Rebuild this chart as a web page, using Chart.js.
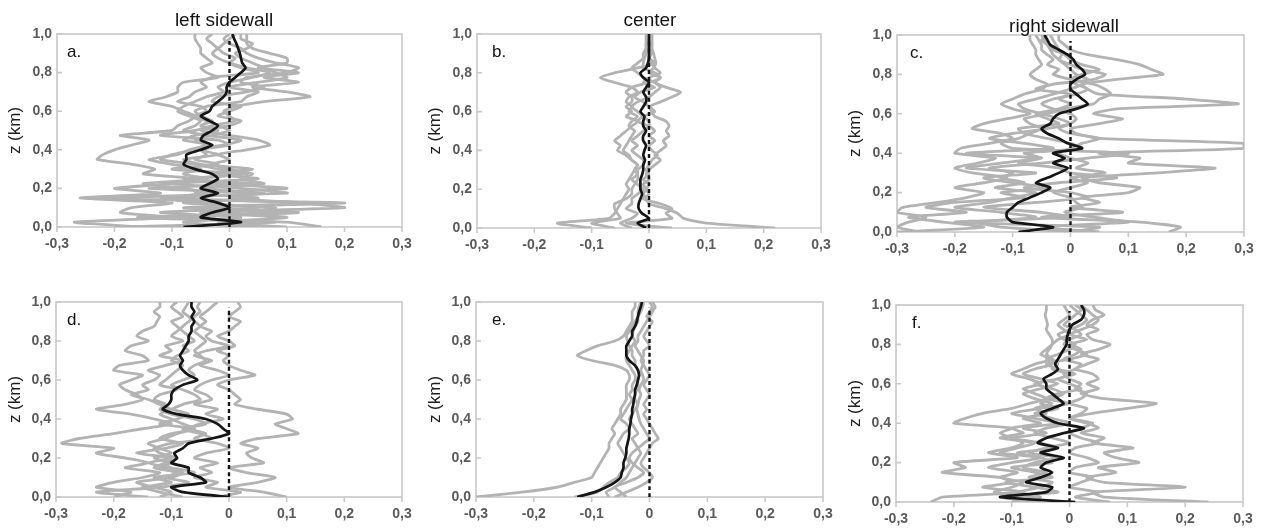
<!DOCTYPE html>
<html>
<head>
<meta charset="utf-8">
<script src="https://cdn.jsdelivr.net/npm/chart.js@4.4.1/dist/chart.umd.min.js"></script>
<style>
  body { margin: 0; background: #fff; }
  #fig { position: relative; width: 1264px; height: 528px; overflow: hidden; }
  #fig canvas { position: absolute; }
</style>
</head>
<body>
<div id="fig"></div>
<script>
// heights (km), listed from top (1.0) to ground (0)
const zLevels = [1.0, 0.975, 0.95, 0.925, 0.9, 0.875, 0.85, 0.825, 0.8, 0.775, 0.75, 0.725, 0.7, 0.675, 0.65, 0.625, 0.6, 0.575, 0.55, 0.525, 0.5, 0.475, 0.45, 0.425, 0.4, 0.375, 0.35, 0.325, 0.3, 0.275, 0.25, 0.225, 0.2, 0.175, 0.15, 0.125, 0.1, 0.075, 0.05, 0.025, 0];
const zeroLineX = [0, 0];
const zeroLineZ = [0, 0.97];

// a. left sidewall (top row)
const aMean = [0.005, 0.008, 0.012, 0.015, 0.018, 0.02, 0.022, 0.028, 0.02, 0.01, 0, -0.005, -0.005, -0.01, -0.02, -0.03, -0.035, -0.05, -0.035, -0.02, -0.03, -0.045, -0.05, -0.03, -0.05, -0.075, -0.075, -0.08, -0.06, -0.03, -0.02, -0.035, -0.05, -0.02, -0.05, -0.02, 0, -0.03, -0.05, 0.02, -0.08];
const aRun1 = [0.03, 0.03, 0.03, 0.04, 0.07, 0.1, 0.1, 0.05, 0.12, 0.06, 0.12, 0.04, 0.1, 0.14, 0.06, 0.01, -0.01, 0, 0.01, -0.03, -0.06, -0.12, -0.02, 0, -0.05, -0.02, -0.08, -0.05, 0.04, -0.03, 0.05, -0.1, 0.02, 0.1, -0.25, 0.2, -0.05, 0.07, -0.12, 0.1, 0.16];
const aRun2 = [-0.06, -0.06, -0.055, -0.05, -0.05, -0.04, -0.03, -0.05, -0.04, -0.02, -0.08, -0.09, -0.09, -0.11, -0.14, -0.1, -0.08, -0.06, -0.07, -0.09, -0.1, -0.19, -0.14, -0.17, -0.2, -0.22, -0.23, -0.17, -0.13, -0.15, -0.06, -0.1, -0.2, -0.12, -0.26, -0.1, -0.17, -0.19, -0.1, -0.27, -0.15];
const aRun3 = [0, -0.01, 0, 0.02, 0.03, 0.05, 0.08, 0.12, 0.1, 0.03, 0.02, 0.06, 0.03, -0.02, -0.03, 0.02, 0, -0.02, 0.02, 0, -0.05, 0, 0.05, 0.07, 0.03, -0.02, 0, -0.03, 0, 0.04, 0.02, 0.06, -0.05, 0.05, 0, 0.12, 0.2, -0.05, 0.1, -0.02, 0.1];
const aRun4 = [-0.03, -0.04, -0.03, -0.02, -0.01, 0.01, 0, 0.02, 0.05, -0.03, -0.05, -0.04, -0.06, -0.07, -0.09, -0.05, -0.04, -0.06, -0.04, -0.02, 0, -0.03, -0.06, -0.04, -0.07, -0.09, -0.14, -0.1, -0.05, -0.08, -0.04, -0.15, -0.08, -0.04, -0.12, -0.04, 0.05, -0.12, 0.02, -0.08, 0.05];
const aRun5 = [0.02, 0.02, 0.04, 0.03, 0.01, 0.02, 0.04, 0.06, 0.08, 0.1, 0.05, 0, 0.05, 0.03, 0.02, -0.04, -0.06, -0.05, -0.03, -0.05, -0.02, -0.06, -0.08, -0.03, -0.05, -0.04, -0.06, -0.02, -0.1, 0.02, -0.05, -0.02, 0.1, -0.06, 0.05, -0.08, 0.08, 0, -0.07, 0.06, -0.12];
const aRun6 = [0.01, 0, -0.01, -0.02, -0.03, -0.02, 0, 0.03, 0.07, 0.04, 0, -0.02, -0.01, -0.04, -0.06, -0.08, -0.09, -0.07, -0.05, -0.06, -0.08, -0.04, 0.02, -0.01, -0.06, -0.1, -0.12, -0.06, -0.02, 0.03, -0.08, 0.04, -0.14, 0.06, -0.1, 0.14, -0.08, 0.12, -0.16, 0.08, -0.2];

// b. center (top row)
const bMean = [0, 0, 0, 0, 0, 0, -0.002, -0.005, -0.015, -0.01, 0, -0.005, -0.01, -0.005, -0.005, -0.01, -0.015, -0.008, -0.01, -0.01, -0.005, -0.01, -0.01, -0.005, -0.008, -0.01, -0.007, -0.01, -0.01, -0.012, -0.015, -0.015, -0.015, -0.012, -0.015, -0.018, -0.018, -0.012, 0, -0.02, -0.005];
const bRun1 = [0.005, 0.005, 0.005, 0.005, 0.005, 0, 0.01, -0.02, -0.06, -0.085, -0.06, -0.03, -0.02, -0.035, -0.04, -0.03, -0.035, -0.02, -0.03, -0.035, -0.025, -0.03, -0.035, -0.04, -0.045, -0.035, -0.03, -0.02, -0.025, -0.03, -0.035, -0.04, -0.035, -0.04, -0.045, -0.05, -0.055, -0.06, -0.07, -0.16, -0.1];
const bRun2 = [0.005, 0.005, 0.005, 0.005, 0.008, 0.01, 0.012, 0.008, 0, 0.02, 0.01, 0.03, 0.055, 0.04, 0.02, 0, 0.005, 0.01, 0.03, 0.035, 0.03, 0.035, 0.025, 0.03, 0.02, 0.01, 0.02, 0.01, 0, -0.005, 0, -0.01, -0.005, -0.01, -0.005, 0, 0.03, 0.05, 0.06, 0.1, 0.22];
const bRun3 = [-0.005, -0.005, -0.005, -0.005, -0.005, -0.008, -0.01, -0.01, 0.01, 0.02, 0, -0.03, -0.04, -0.03, -0.03, -0.04, -0.03, -0.04, -0.02, -0.03, -0.04, -0.05, -0.06, -0.05, -0.055, -0.04, -0.03, -0.02, -0.025, -0.02, -0.02, -0.025, -0.03, -0.03, -0.04, -0.06, -0.06, -0.055, -0.05, -0.1, -0.06];
const bRun4 = [0, 0, 0, 0, 0, 0, 0.005, 0.01, 0.02, 0, -0.01, 0.01, -0.015, -0.025, -0.01, 0, 0.01, -0.01, -0.02, 0, 0.01, 0, 0.01, 0, 0.005, 0.015, 0.005, 0, -0.005, 0, -0.01, 0, -0.005, 0, -0.01, 0.02, 0.04, 0.03, 0.04, -0.04, 0.04];
const bRun5 = [0, 0, -0.005, -0.005, -0.01, -0.01, -0.02, -0.03, -0.02, -0.01, 0.01, 0.02, 0.01, 0, -0.02, -0.03, -0.02, -0.01, 0, 0, -0.01, -0.02, -0.03, -0.02, -0.03, -0.02, -0.01, -0.01, -0.02, -0.02, -0.03, -0.02, -0.01, -0.02, -0.03, -0.03, -0.04, -0.02, -0.03, -0.05, -0.03];

// c. right sidewall (top row)
const cMean = [-0.045, -0.04, -0.035, -0.02, -0.005, 0.005, 0.01, 0.02, 0.025, 0.01, 0, 0, 0.01, 0.02, 0.03, 0.01, -0.02, -0.03, -0.035, -0.05, -0.04, -0.02, -0.005, 0.02, -0.03, -0.01, -0.03, -0.005, -0.02, -0.04, -0.06, -0.035, -0.05, -0.07, -0.09, -0.1, -0.11, -0.11, -0.1, -0.03, -0.09];
const cRun1 = [-0.02, -0.02, -0.01, 0, 0.03, 0.08, 0.12, 0.14, 0.16, 0.08, 0.02, 0.03, 0.05, 0.2, 0.29, 0.08, 0.04, 0.09, 0.05, 0, 0.01, 0.05, 0.3, 0.3, 0.05, 0.12, 0.1, 0.25, 0.15, 0.02, 0.05, 0.12, 0.1, 0.02, 0.05, 0, 0.09, -0.05, 0.12, 0.19, 0.17];
const cRun2 = [-0.07, -0.07, -0.065, -0.06, -0.06, -0.055, -0.05, -0.06, -0.07, -0.06, -0.04, -0.05, -0.08, -0.1, -0.12, -0.1, -0.07, -0.11, -0.15, -0.17, -0.12, -0.1, -0.14, -0.19, -0.2, -0.13, -0.16, -0.2, -0.17, -0.11, -0.15, -0.2, -0.15, -0.18, -0.23, -0.29, -0.3, -0.25, -0.28, -0.3, -0.26];
const cRun3 = [-0.035, -0.03, -0.025, -0.02, -0.015, -0.02, 0, 0.02, 0.06, 0.04, -0.03, -0.06, 0, -0.02, 0, -0.02, -0.06, -0.04, -0.02, -0.09, -0.08, -0.04, 0, 0.02, -0.08, -0.05, -0.09, -0.02, 0, 0.08, -0.02, -0.08, 0, 0.03, -0.06, -0.15, -0.05, 0, -0.2, 0.05, 0];
const cRun4 = [-0.06, -0.055, -0.05, -0.05, -0.04, -0.03, -0.04, -0.02, -0.03, 0, 0.04, 0.06, 0.07, 0.05, 0.04, -0.01, -0.04, -0.08, -0.07, -0.05, -0.07, -0.09, -0.12, -0.1, 0.1, 0.03, -0.05, -0.14, -0.1, -0.12, -0.08, -0.13, -0.06, -0.1, -0.14, -0.2, -0.12, -0.06, -0.16, -0.12, 0.02];
const cRun5 = [-0.04, -0.05, -0.04, -0.03, -0.01, 0, 0.02, 0.05, 0.02, 0, 0.01, 0.03, 0.01, -0.03, -0.05, -0.03, 0, 0.01, 0, -0.02, 0, 0.05, 0.02, 0, -0.02, 0, 0.03, 0.01, 0.06, 0, 0.03, 0, -0.03, 0, 0.01, 0.02, -0.01, 0.04, 0.1, -0.05, 0.05];
const cRun6 = [-0.05, -0.045, -0.04, -0.035, -0.03, -0.02, -0.01, 0, 0.01, 0.03, 0.02, 0, -0.03, -0.06, -0.09, -0.08, -0.05, -0.02, 0, -0.04, -0.1, -0.14, -0.08, -0.03, -0.18, -0.06, -0.12, -0.18, -0.06, -0.15, -0.1, -0.04, -0.12, -0.08, -0.2, -0.25, -0.18, -0.28, -0.22, -0.15, -0.3];

// d. left sidewall (bottom row)
const dMean = [-0.065, -0.065, -0.06, -0.065, -0.06, -0.065, -0.065, -0.07, -0.07, -0.075, -0.08, -0.085, -0.08, -0.085, -0.08, -0.07, -0.055, -0.08, -0.095, -0.1, -0.1, -0.105, -0.115, -0.09, -0.04, -0.02, -0.01, 0, -0.03, -0.07, -0.08, -0.095, -0.09, -0.1, -0.07, -0.07, -0.05, -0.04, -0.1, -0.08, 0];
const dRun1 = [-0.12, -0.12, -0.13, -0.12, -0.125, -0.13, -0.15, -0.16, -0.14, -0.17, -0.18, -0.15, -0.14, -0.19, -0.2, -0.15, -0.17, -0.19, -0.18, -0.16, -0.15, -0.18, -0.23, -0.17, -0.13, -0.1, -0.15, -0.2, -0.26, -0.29, -0.2, -0.23, -0.18, -0.14, -0.18, -0.12, -0.15, -0.2, -0.23, -0.17, -0.2];
const dRun2 = [0.015, 0.02, 0.01, 0, 0.02, 0.01, 0, -0.02, 0, 0.01, -0.02, 0, -0.01, 0, 0.02, 0.045, 0, -0.02, 0, 0.01, 0.02, 0.01, 0.05, 0.1, 0.11, 0.08, 0.1, 0.12, 0.05, 0.02, 0.05, 0.03, 0.04, 0.06, 0, 0.03, 0.08, 0.05, 0, 0.06, 0.1];
const dRun3 = [-0.05, -0.055, -0.05, -0.06, -0.07, -0.08, -0.09, -0.1, -0.08, -0.11, -0.1, -0.12, -0.08, -0.11, -0.14, -0.12, -0.13, -0.15, -0.14, -0.17, -0.14, -0.12, -0.1, -0.07, -0.09, -0.12, -0.06, -0.1, -0.12, -0.08, -0.11, -0.16, -0.1, -0.14, -0.1, -0.06, -0.13, -0.1, -0.15, -0.12, -0.08];
const dRun4 = [-0.02, -0.03, -0.04, -0.05, -0.04, -0.05, -0.03, -0.04, -0.03, 0, -0.04, -0.06, -0.03, -0.05, -0.02, 0, -0.03, -0.05, -0.06, -0.04, -0.03, -0.06, -0.02, -0.04, -0.01, -0.05, -0.07, -0.04, -0.06, -0.02, 0, -0.04, -0.06, -0.02, -0.05, -0.03, -0.06, -0.02, -0.04, 0.02, -0.02];
const dRun5 = [-0.09, -0.1, -0.09, -0.08, -0.1, -0.09, -0.08, -0.07, -0.06, -0.08, -0.07, -0.09, -0.1, -0.08, -0.09, -0.1, -0.11, -0.12, -0.09, -0.12, -0.13, -0.11, -0.12, -0.1, -0.06, -0.04, -0.08, -0.05, -0.03, -0.1, -0.13, -0.12, -0.09, -0.11, -0.13, -0.09, -0.11, -0.07, -0.12, -0.23, -0.14];
const dRun6 = [-0.07, -0.075, -0.08, -0.07, -0.06, -0.05, -0.06, -0.05, -0.04, -0.05, -0.06, -0.05, -0.04, -0.06, -0.07, -0.06, -0.08, -0.1, -0.08, -0.06, -0.05, -0.08, -0.1, -0.12, -0.1, -0.08, -0.06, -0.09, -0.11, -0.14, -0.12, -0.1, -0.13, -0.1, -0.12, -0.08, -0.1, -0.16, -0.13, -0.1, -0.12];

// e. center (bottom row)
const eMean = [-0.013, -0.015, -0.018, -0.02, -0.022, -0.025, -0.03, -0.03, -0.035, -0.04, -0.04, -0.04, -0.035, -0.025, -0.02, -0.018, -0.02, -0.022, -0.025, -0.025, -0.027, -0.028, -0.03, -0.03, -0.032, -0.033, -0.035, -0.035, -0.036, -0.038, -0.04, -0.04, -0.042, -0.045, -0.045, -0.048, -0.05, -0.06, -0.075, -0.095, -0.125];
const eRun1 = [-0.025, -0.025, -0.03, -0.03, -0.03, -0.035, -0.04, -0.045, -0.06, -0.09, -0.11, -0.125, -0.1, -0.06, -0.04, -0.035, -0.035, -0.04, -0.04, -0.04, -0.04, -0.045, -0.05, -0.05, -0.055, -0.06, -0.065, -0.06, -0.065, -0.07, -0.07, -0.075, -0.08, -0.085, -0.09, -0.095, -0.1, -0.13, -0.16, -0.22, -0.3];
const eRun2 = [0, 0.005, 0, -0.005, 0.005, 0, -0.005, -0.01, -0.005, 0, -0.01, -0.01, -0.015, -0.01, -0.005, 0, -0.005, -0.01, -0.005, 0, -0.005, -0.01, -0.005, -0.01, -0.005, 0, 0.005, 0.01, 0.015, 0.005, 0, -0.005, -0.01, -0.015, -0.01, 0, 0.005, -0.005, -0.02, -0.04, -0.06];
const eRun3 = [-0.015, -0.018, -0.02, -0.02, -0.025, -0.03, -0.035, -0.04, -0.038, -0.035, -0.03, -0.03, -0.025, -0.025, -0.02, -0.018, -0.02, -0.02, -0.022, -0.025, -0.025, -0.02, -0.025, -0.03, -0.035, -0.03, -0.025, -0.02, -0.03, -0.025, -0.02, -0.015, -0.02, -0.025, -0.03, -0.035, -0.04, -0.05, -0.06, -0.075, -0.07];
const eRun4 = [-0.01, -0.012, -0.015, -0.02, -0.02, -0.025, -0.028, -0.03, -0.025, -0.03, -0.035, -0.04, -0.04, -0.035, -0.03, -0.025, -0.025, -0.03, -0.03, -0.035, -0.03, -0.035, -0.04, -0.045, -0.05, -0.04, -0.035, -0.045, -0.05, -0.055, -0.05, -0.045, -0.04, -0.035, -0.04, -0.05, -0.055, -0.07, -0.08, -0.09, -0.13];
const eRun5 = [0.005, 0.01, 0.005, 0, -0.005, -0.01, -0.015, -0.02, -0.02, -0.025, -0.02, -0.015, -0.01, -0.012, -0.015, -0.012, -0.01, -0.015, -0.018, -0.015, -0.018, -0.02, -0.022, -0.02, -0.018, -0.015, -0.01, -0.005, 0, -0.01, -0.02, -0.03, -0.035, -0.03, -0.02, -0.01, -0.02, -0.04, -0.06, -0.05, -0.04];

// f. right sidewall (bottom row)
const fMean = [0.02, 0.025, 0.025, 0.02, 0.005, 0, -0.003, -0.005, -0.005, -0.01, -0.015, -0.02, -0.025, -0.02, -0.03, -0.045, -0.04, -0.04, -0.03, -0.02, -0.01, -0.03, -0.05, -0.04, -0.02, 0.025, -0.01, -0.04, -0.055, -0.02, -0.05, -0.01, -0.04, -0.05, -0.03, -0.05, -0.075, -0.03, -0.04, -0.12, 0.01];
const fRun1 = [-0.04, -0.04, -0.042, -0.04, -0.038, -0.04, -0.035, -0.03, -0.03, -0.035, -0.04, -0.03, -0.06, -0.08, -0.1, -0.07, -0.05, -0.08, -0.06, -0.04, -0.07, -0.1, -0.15, -0.18, -0.2, -0.1, -0.12, -0.1, -0.08, -0.1, -0.14, -0.09, -0.2, -0.18, -0.22, -0.12, -0.1, -0.15, -0.08, -0.22, -0.24];
const fRun2 = [0.04, 0.045, 0.06, 0.04, 0.03, 0.05, 0.03, 0.04, 0.07, 0.05, 0.02, 0.05, 0.03, 0.01, 0.04, 0.05, 0.03, 0.05, 0.02, 0.06, 0.15, 0.1, 0.04, 0, 0.03, 0.05, 0.02, 0.06, 0.04, 0.11, 0.06, 0.08, 0.12, 0.05, 0.08, 0.03, 0.06, 0.2, 0.04, 0.06, 0.24];
const fRun3 = [0, 0.01, 0.02, 0.03, 0.02, 0, -0.02, -0.01, 0.01, 0, -0.02, -0.04, -0.03, -0.06, -0.08, -0.05, -0.02, -0.05, -0.08, -0.06, -0.03, -0.06, -0.04, -0.08, -0.05, -0.1, -0.08, -0.12, -0.06, -0.09, -0.12, -0.05, -0.1, -0.14, -0.09, -0.12, -0.08, -0.1, -0.13, -0.06, -0.1];
const fRun4 = [0.02, 0.03, 0.04, 0.05, 0.04, 0.02, 0, 0.03, 0, 0.02, 0.01, -0.01, 0.02, 0.01, -0.01, 0, 0.02, 0.01, 0.03, 0.02, 0, 0.03, 0.02, 0, 0.04, 0.02, 0, 0.02, 0.05, 0.01, 0, 0.03, 0.05, 0.01, 0, 0.04, 0.02, 0, 0.05, 0.01, 0.07];
const fRun5 = [-0.01, -0.005, 0, -0.01, -0.02, -0.01, 0, -0.02, -0.03, -0.04, -0.05, -0.03, -0.02, -0.03, 0, -0.02, -0.06, -0.03, -0.01, -0.03, -0.05, -0.02, -0.06, -0.03, 0, -0.04, -0.06, -0.03, 0, -0.04, -0.07, -0.02, -0.06, -0.08, -0.04, -0.07, -0.03, -0.05, -0.09, -0.05, -0.07];
const fRun6 = [0.01, 0.02, 0.01, 0, -0.01, 0.01, 0.02, 0, -0.01, 0.01, 0.03, 0, -0.04, -0.02, 0.01, -0.02, 0, 0.02, -0.02, -0.04, 0, -0.05, -0.1, -0.06, -0.02, -0.08, -0.04, -0.1, -0.05, -0.02, -0.09, -0.05, -0.03, -0.1, -0.06, -0.03, -0.11, -0.06, -0.02, -0.12, -0.05];

// where each panel sits on the page, and its plot box
const panels = [
  { letter: 'a.', title: 'left sidewall', titleX: 224, titleY: 26, mean: aMean, runs: [aRun1, aRun2, aRun3, aRun4, aRun5, aRun6],
    left: 0, top: 0, w: 420, h: 264, area: { left: 57, right: 402, top: 34, bottom: 227 }, letterDx: 10 },
  { letter: 'b.', title: 'center', titleX: 230, titleY: 26, mean: bMean, runs: [bRun1, bRun2, bRun3, bRun4, bRun5],
    left: 420, top: 0, w: 420, h: 264, area: { left: 477, right: 821, top: 34, bottom: 228 }, letterDx: 15 },
  { letter: 'c.', title: 'right sidewall', titleX: 224, titleY: 32, mean: cMean, runs: [cRun1, cRun2, cRun3, cRun4, cRun5, cRun6],
    left: 840, top: 0, w: 424, h: 264, area: { left: 897, right: 1244, top: 35, bottom: 232 }, letterDx: 13 },
  { letter: 'd.', mean: dMean, runs: [dRun1, dRun2, dRun3, dRun4, dRun5, dRun6],
    left: 0, top: 264, w: 420, h: 264, area: { left: 56, right: 402, top: 302, bottom: 497 }, letterDx: 11 },
  { letter: 'e.', mean: eMean, runs: [eRun1, eRun2, eRun3, eRun4, eRun5],
    left: 420, top: 264, w: 420, h: 264, area: { left: 476, right: 823, top: 302, bottom: 497 }, letterDx: 16 },
  { letter: 'f.', mean: fMean, runs: [fRun1, fRun2, fRun3, fRun4, fRun5, fRun6],
    left: 840, top: 264, w: 424, h: 264, area: { left: 896, right: 1243, top: 305, bottom: 502 }, letterDx: 16 }
];

const FONT = '"Liberation Sans", Arial, sans-serif';
const FRAME = '#c8c8c8';
Chart.defaults.font.family = FONT;

function toPoints(xs, zs) {
  return xs.map((x, i) => ({ x: x, y: zs[i] }));
}

// frame, small tick marks, panel letter and column title
const panelDecor = {
  id: 'panelDecor',
  beforeDatasetsDraw(chart) {
    const a = chart.chartArea, ctx = chart.ctx;
    const xs = chart.scales.x, ys = chart.scales.y;
    ctx.save();
    ctx.strokeStyle = FRAME;
    ctx.lineWidth = 1.6;
    ctx.strokeRect(a.left, a.top, a.right - a.left, a.bottom - a.top);
    ctx.beginPath();
    ys.ticks.forEach((t) => {
      const py = ys.getPixelForValue(t.value);
      ctx.moveTo(a.left, py);
      ctx.lineTo(a.left + 5, py);
    });
    xs.ticks.forEach((t) => {
      const px = xs.getPixelForValue(t.value);
      ctx.moveTo(px, a.bottom);
      ctx.lineTo(px, a.bottom + 5);
    });
    ctx.stroke();
    ctx.restore();
  },
  afterDatasetsDraw(chart, args, opts) {
    const a = chart.chartArea, ctx = chart.ctx;
    ctx.save();
    ctx.fillStyle = '#141414';
    ctx.textBaseline = 'alphabetic';
    ctx.textAlign = 'left';
    ctx.font = '17px ' + FONT;
    ctx.fillText(opts.letter, a.left + opts.letterDx, a.top + 23);
    if (opts.title) {
      ctx.font = '19px ' + FONT;
      ctx.textAlign = 'center';
      ctx.fillText(opts.title, opts.titleX, opts.titleY);
    }
    ctx.restore();
  }
};

const fig = document.getElementById('fig');

panels.forEach((p) => {
  const cv = document.createElement('canvas');
  cv.width = p.w;
  cv.height = p.h;
  cv.style.left = p.left + 'px';
  cv.style.top = p.top + 'px';
  cv.style.width = p.w + 'px';
  cv.style.height = p.h + 'px';
  fig.appendChild(cv);

  const datasets = [
    { data: toPoints(p.mean, zLevels), showLine: true, borderColor: '#151515', borderWidth: 2.7 },
    { data: toPoints(zeroLineX, zeroLineZ), showLine: true, borderColor: '#151515', borderWidth: 2.4, borderDash: [4, 3] }
  ];
  p.runs.forEach((run) => {
    datasets.push({ data: toPoints(run, zLevels), showLine: true, borderColor: '#b3b3b3', borderWidth: 2.8 });
  });

  new Chart(cv, {
    type: 'scatter',
    data: { datasets: datasets },
    plugins: [panelDecor],
    options: {
      responsive: false,
      animation: false,
      devicePixelRatio: 1,
      elements: {
        point: { radius: 0 },
        line: { tension: 0.2, fill: false }
      },
      layout: {
        padding: { top: p.area.top - p.top, right: p.left + p.w - p.area.right, left: 0, bottom: 0 }
      },
      plugins: {
        legend: { display: false },
        tooltip: { enabled: false },
        panelDecor: { letter: p.letter, letterDx: p.letterDx, title: p.title, titleX: p.titleX, titleY: p.titleY }
      },
      scales: {
        x: {
          type: 'linear',
          min: -0.3,
          max: 0.3,
          grid: { display: false, drawTicks: false },
          border: { display: false },
          ticks: {
            stepSize: 0.1,
            padding: 9,
            color: '#5a5a5a',
            font: { size: 14, weight: 'bold' },
            maxRotation: 0,
            callback: (v) => (Math.abs(v) < 1e-9 ? '0' : v.toFixed(1).replace('.', ','))
          },
          afterFit: (s) => {
            s.height = p.top + p.h - p.area.bottom;
            s.paddingLeft = 0;
            s.paddingRight = 0;
          }
        },
        y: {
          type: 'linear',
          min: 0,
          max: 1,
          grid: { display: false, drawTicks: false },
          border: { display: false },
          ticks: {
            stepSize: 0.2,
            padding: 5,
            color: '#5a5a5a',
            font: { size: 14, weight: 'bold' },
            callback: (v) => v.toFixed(1).replace('.', ',')
          },
          title: {
            display: true,
            text: 'z (km)',
            color: '#1e1e1e',
            font: { size: 17 },
            padding: { top: 5, bottom: 0 }
          },
          afterFit: (s) => {
            s.width = p.area.left - p.left;
            s.paddingTop = 0;
            s.paddingBottom = 0;
          }
        }
      }
    }
  });
});
</script>
</body>
</html>
